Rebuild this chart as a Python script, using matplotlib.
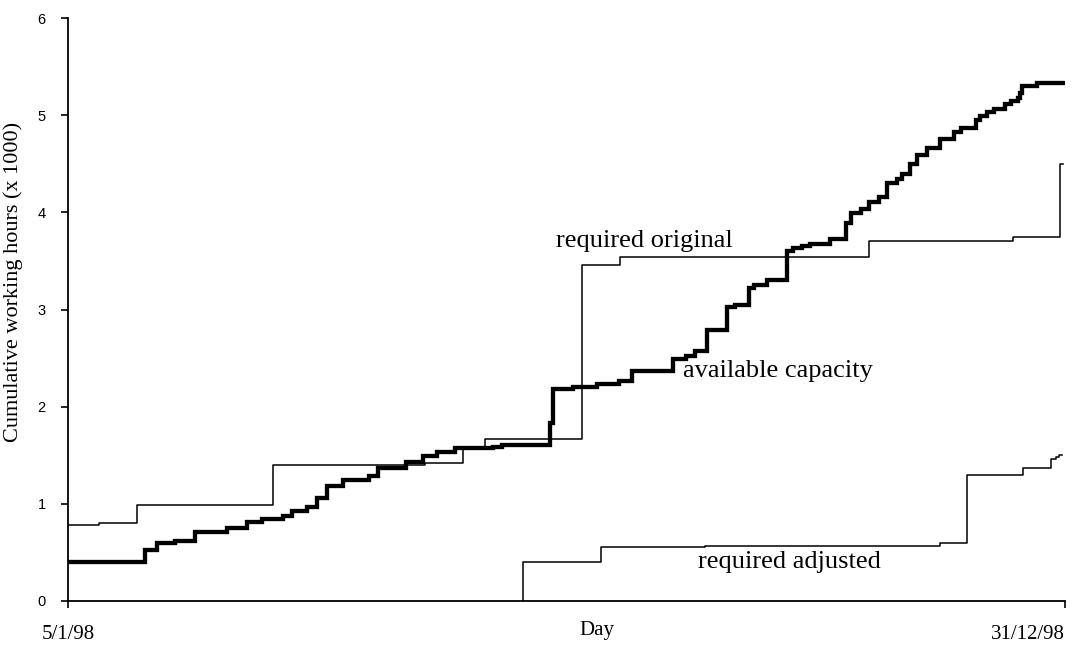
import matplotlib
matplotlib.use("Agg")
import matplotlib.pyplot as plt

# Day of year 1998 (5 = 5 Jan, 365 = 31 Dec); values in thousands of hours
avail_days = [5.0, 32.8, 37.0, 43.6, 50.9, 62.3, 69.5, 74.9, 82.7, 85.8, 91.2,
              94.9, 98.5, 104.4, 113.7, 117.0, 126.9, 133.3, 138.1, 144.7,
              158.6, 161.6, 179.2, 180.2, 187.5, 195.9, 204.0, 208.5, 223.6,
              228.2, 231.4, 235.7, 243.1, 245.7, 250.8, 252.7, 257.3, 264.5,
              266.9, 270.2, 272.9, 280.0, 285.8, 287.8, 291.3, 294.3, 297.9,
              300.7, 304.2, 306.0, 308.9, 311.6, 315.1, 319.7, 324.9, 327.6,
              332.7, 334.3, 336.7, 339.4, 343.3, 345.4, 347.9, 348.9, 349.3,
              354.9, 364.4]
avail_hours = [0.405, 0.53, 0.60, 0.615, 0.715, 0.754, 0.818, 0.84, 0.875, 0.93,
               0.97, 1.065, 1.185, 1.248, 1.29, 1.373, 1.427, 1.49, 1.537, 1.57,
               1.588, 1.61, 1.83, 2.18, 2.20, 2.237, 2.265, 2.365, 2.487,
               2.522, 2.572, 2.79, 3.025, 3.046, 3.225, 3.255, 3.30, 3.603,
               3.63, 3.655, 3.675, 3.725, 3.886, 3.99, 4.03, 4.11, 4.157,
               4.30, 4.34, 4.39, 4.502, 4.59, 4.666, 4.758, 4.825, 4.87,
               4.955, 4.99, 5.03, 5.062, 5.12, 5.148, 5.18, 5.225, 5.30,
               5.326, 5.326]

orig_days = [5.0, 16.3, 30.0, 79.1, 133.9, 147.7, 155.6, 190.5, 204.3, 294.3,
             346.3, 363.2, 364.4]
orig_hours = [0.78, 0.80, 0.985, 1.397, 1.42, 1.57, 1.667, 3.458, 3.537, 3.705,
              3.743, 4.50, 4.50]

adj_days = [169.3, 197.5, 235.0, 319.7, 329.6, 350.0, 360.0, 361.8, 363.0, 364.0]
adj_hours = [0.0, 0.405, 0.556, 0.569, 0.594, 1.293, 1.372, 1.458, 1.48, 1.50]

x_tick_days = [5, 365]
x_tick_labels = ["5/1/98", "31/12/98"]
y_ticks = [0, 1, 2, 3, 4, 5, 6]

serif = ["Liberation Serif", "DejaVu Serif"]
sans = ["Liberation Sans", "DejaVu Sans"]

fig = plt.figure(figsize=(10.85, 6.45), dpi=100)
ax = fig.add_axes([68 / 1085, 1 - 601 / 645, (1065 - 68) / 1085, (601 - 18) / 645])

ax.step(orig_days, orig_hours, where="post", color="black", lw=1.1)
# the adjusted requirement rises from zero at its first day
ax.step(adj_days, adj_hours, where="pre", color="black", lw=1.1)
ax.step(avail_days, avail_hours, where="post", color="black", lw=3.1,
        solid_joinstyle="miter")

ax.set_xlim(5, 365)
ax.set_ylim(0, 6)

for side in ("top", "right"):
    ax.spines[side].set_visible(False)
for side in ("left", "bottom"):
    ax.spines[side].set_linewidth(1.3)

ax.set_yticks(y_ticks)
ax.set_yticklabels([str(v) for v in y_ticks], fontfamily=sans, fontsize=10.5)
ax.tick_params(axis="y", direction="out", length=5, width=1.2, pad=11)

ax.set_xticks(x_tick_days)
ax.set_xticklabels(x_tick_labels, fontfamily=serif, fontsize=15)
ax.tick_params(axis="x", direction="out", length=5, width=1.2, pad=12)
xl = ax.get_xticklabels()
xl[1].set_horizontalalignment("right")
xl[1].set_x(365)

ax.set_xlabel("Day", fontfamily=serif, fontsize=15)
ax.xaxis.set_label_coords(0.53, -0.035)
ax.xaxis.label.set_verticalalignment("top")

ax.set_ylabel("Cumulative working hours (x 1000)", fontfamily=serif, fontsize=16)
ax.yaxis.set_label_coords(-0.045, 0.547)

ax.text(181.2, 3.70, "required original", fontfamily=serif, fontsize=19,
        ha="left", va="center")
ax.text(227.2, 2.37, "available capacity", fontfamily=serif, fontsize=19,
        ha="left", va="center")
ax.text(232.5, 0.40, "required adjusted", fontfamily=serif, fontsize=19,
        ha="left", va="center")

fig.savefig("out.png", dpi=100)
